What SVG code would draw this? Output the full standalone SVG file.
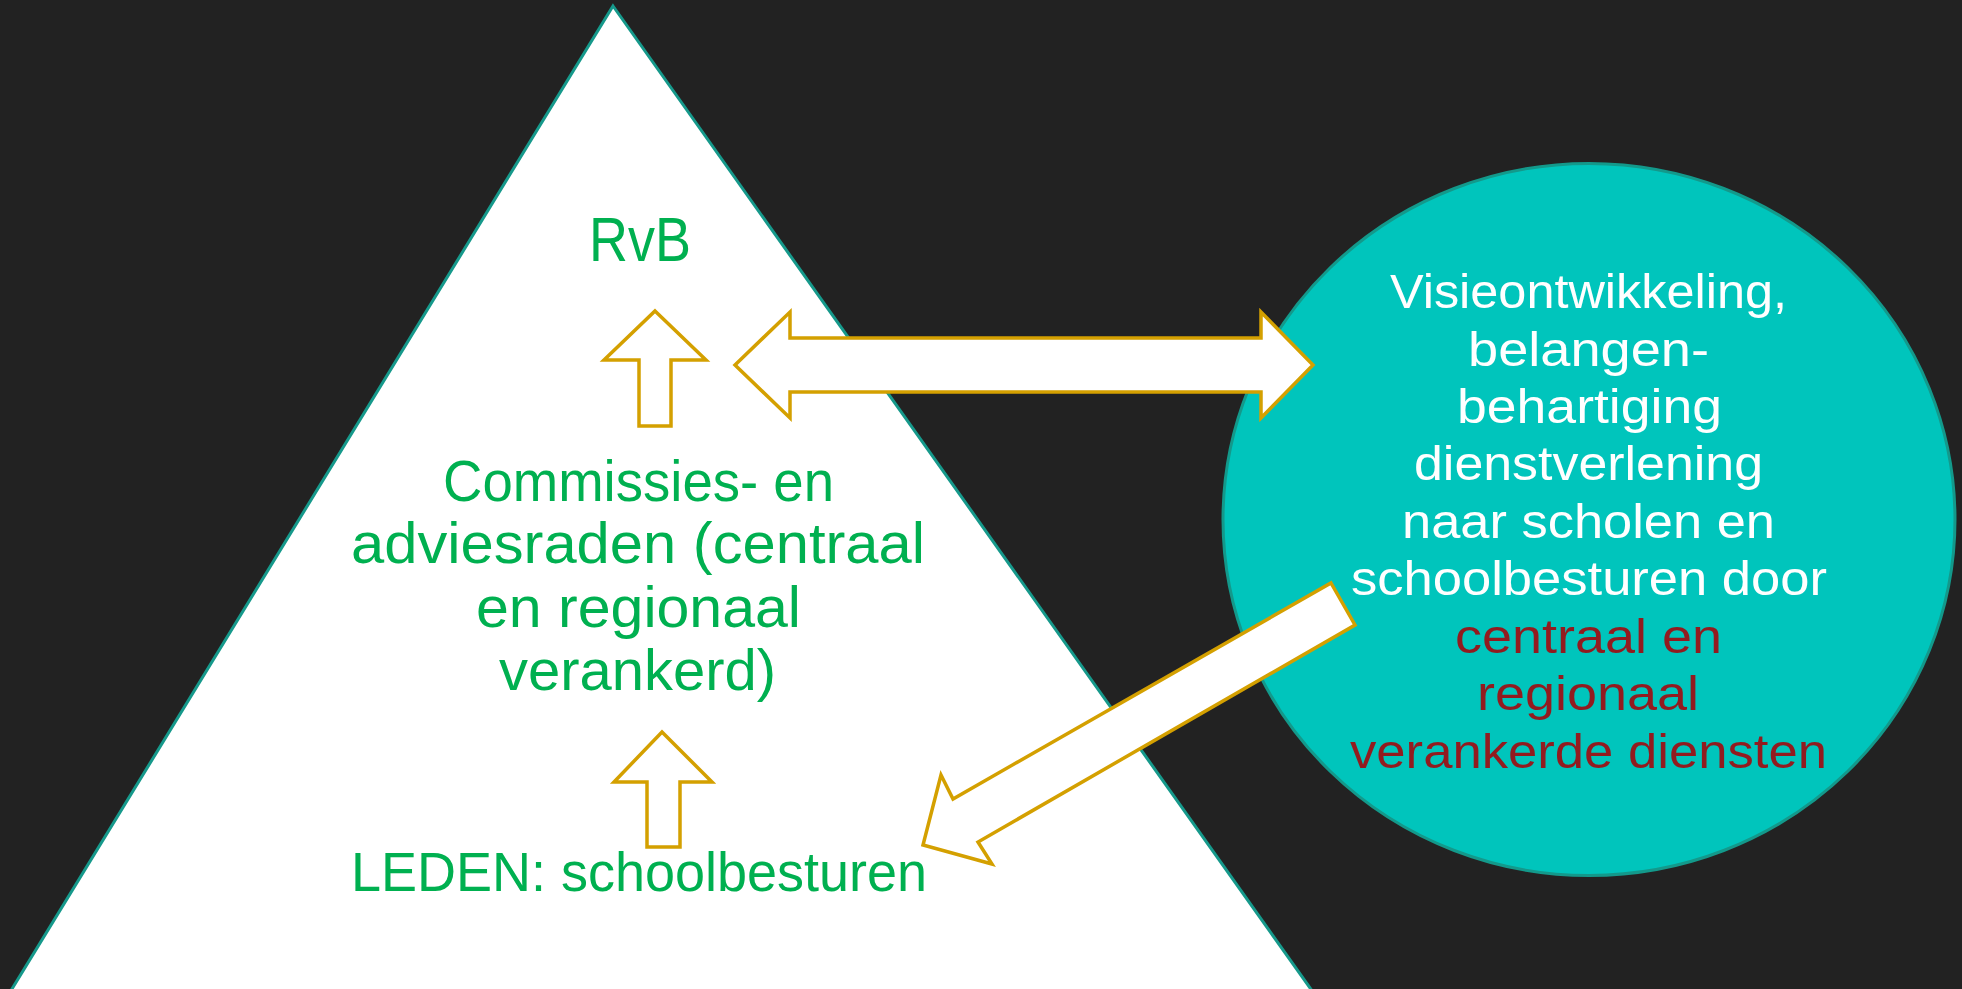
<svg xmlns="http://www.w3.org/2000/svg" width="1962" height="989" viewBox="0 0 1962 989">
<style>
.arrow{fill:#ffffff;stroke:#d4a000;stroke-width:3.5;stroke-linejoin:miter}
.lt{font-family:"Liberation Sans",Arial,sans-serif;fill:#00b050;text-anchor:middle}
.ct{font-family:"Liberation Sans",Arial,sans-serif;fill:#ffffff;text-anchor:middle;font-size:48px}
.red{fill:#921b1f}
</style>
<rect x="0" y="0" width="1962" height="989" fill="#222222"/>
<g id="pyramid">
<polygon points="613,6 1320,1002 4,1002" fill="#ffffff" stroke="#16998b" stroke-width="3"/>
</g>
<g id="circle">
<ellipse cx="1589" cy="519.5" rx="366" ry="356" fill="#00c5bc" stroke="#13998b" stroke-width="3"/>
</g>
<g id="connectors">
<path class="arrow" d="M735,365 L790,312 L790,338 L1261,338 L1261,312 L1313,365 L1261,418 L1261,392 L790,392 L790,418 Z"/>
<path class="arrow" d="M655,311 L706,360 L671,360 L671,426 L639,426 L639,360 L604,360 Z"/>
<path class="arrow" d="M662,732 L712,782 L680,782 L680,847 L647,847 L647,782 L614,782 Z"/>
<path class="arrow" d="M1331,583 L1355,625 L978,842 L992,864 L923,845 L941,775 L953,799 Z"/>
</g>
<g id="rvb">
<text class="lt" x="640" y="261" font-size="63" textLength="102" lengthAdjust="spacingAndGlyphs">RvB</text>
</g>
<g id="commissies">
<text class="lt" x="638.5" y="501" font-size="57" textLength="391" lengthAdjust="spacingAndGlyphs">Commissies- en</text>
<text class="lt" x="638" y="563" font-size="57" textLength="574" lengthAdjust="spacingAndGlyphs">adviesraden (centraal</text>
<text class="lt" x="638.5" y="627" font-size="57" textLength="325" lengthAdjust="spacingAndGlyphs">en regionaal</text>
<text class="lt" x="637.5" y="690" font-size="57" textLength="277" lengthAdjust="spacingAndGlyphs">verankerd)</text>
</g>
<g id="leden">
<text class="lt" x="639" y="891" font-size="56" textLength="576" lengthAdjust="spacingAndGlyphs">LEDEN: schoolbesturen</text>
</g>
<g id="circle-text">
<text class="ct" x="1588.5" y="308" textLength="397" lengthAdjust="spacingAndGlyphs">Visieontwikkeling,</text>
<text class="ct" x="1588.5" y="366" textLength="241" lengthAdjust="spacingAndGlyphs">belangen-</text>
<text class="ct" x="1589.5" y="423" textLength="265" lengthAdjust="spacingAndGlyphs">behartiging</text>
<text class="ct" x="1588.5" y="480" textLength="349" lengthAdjust="spacingAndGlyphs">dienstverlening</text>
<text class="ct" x="1588.5" y="538" textLength="373" lengthAdjust="spacingAndGlyphs">naar scholen en</text>
<text class="ct" x="1589" y="595" textLength="476" lengthAdjust="spacingAndGlyphs">schoolbesturen door</text>
<text class="ct red" x="1588.5" y="653" textLength="267" lengthAdjust="spacingAndGlyphs">centraal en</text>
<text class="ct red" x="1588" y="710" textLength="222" lengthAdjust="spacingAndGlyphs">regionaal</text>
<text class="ct red" x="1588.5" y="768" textLength="477" lengthAdjust="spacingAndGlyphs">verankerde diensten</text>
</g>
</svg>
